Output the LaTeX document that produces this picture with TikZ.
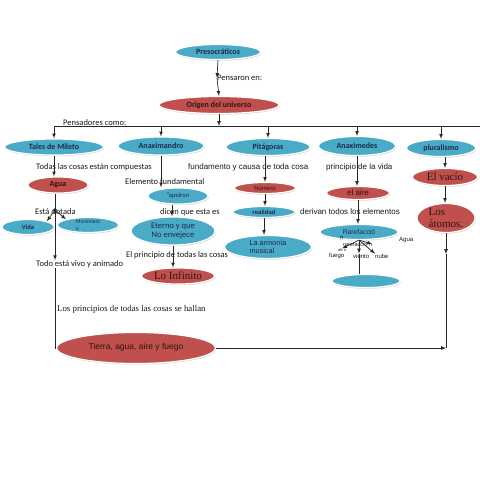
\documentclass[tikz,border=0pt]{standalone}
\usepackage{fontspec}
\setmainfont{Carlito}
\newfontfamily\arialf{Liberation Sans}
\newfontfamily\timesf{Liberation Serif}
\usetikzlibrary{shapes.geometric,shadows}
\definecolor{azul}{HTML}{4AABC6}
\definecolor{rojo}{HTML}{C0504D}
\definecolor{tinta}{HTML}{1B2A49}
\begin{document}
\begin{tikzpicture}[x=1pt,y=-1pt,>=latex]
			\tikzstyle{every node}=[font=\fontsize{8.5}{9.5}\selectfont,inner sep=0pt]
			\tikzstyle{globo}=[ellipse,draw=white,line width=1.2pt,drop shadow={shadow xshift=0.8pt,shadow yshift=-1.2pt,opacity=0.3},align=center]
			\tikzstyle{azulg}=[globo,fill=azul,text=tinta]
			\tikzstyle{rojog}=[globo,fill=rojo,text=rojo!25!black]
			\tikzstyle{fuerte}=[font=\bfseries\fontsize{8}{9}\selectfont]
			\tikzstyle{etiq}=[anchor=west,text=black!90]
			\tikzstyle{arialt}=[font=\arialf\fontsize{8}{9}\selectfont]
			\tikzstyle{arialp}=[font=\arialf\fontsize{6}{7}\selectfont]
			\tikzstyle{romana}=[font=\timesf\fontsize{11}{12}\selectfont]
			\tikzstyle{linea}=[line width=0.7pt,draw=black!85]
			
			\fill[white] (0,0) rectangle (480,480);
			\useasboundingbox (0,0) rectangle (480,480);
			
			%Globos
			\node[azulg,fuerte,minimum width=85pt,minimum height=15pt] (preso) at (218,52) {Presocráticos};
			\node[rojog,fuerte,minimum width=120pt,minimum height=17pt] (origen) at (219,105) {Origen del universo};
			\node[azulg,fuerte,minimum width=99pt,minimum height=16pt] (tales) at (54,147) {Tales de Mileto};
			\node[azulg,fuerte,minimum width=86pt,minimum height=18pt] (anaxi) at (161,146) {Anaximandro};
			\node[azulg,fuerte,minimum width=84pt,minimum height=17pt] (pita) at (268,147) {Pitágoras};
			\node[azulg,fuerte,minimum width=77pt,minimum height=19pt] (anaxm) at (357,146) {Anaximedes};
			\node[azulg,fuerte,minimum width=69pt,minimum height=17pt] (plural) at (441,148) {pluralismo};
			
			\node[rojog,fuerte,minimum width=60pt,minimum height=16pt] (agua) at (58,185) {Agua};
			\node[azulg,minimum width=52pt,minimum height=15pt,font=\bfseries\fontsize{6.5}{7}\selectfont] (vida) at (28,227) {Vida};
			\node[azulg,minimum width=61pt,minimum height=15pt,font=\fontsize{5.5}{6.5}\selectfont,align=left] (movi) at (88,225) {Movimient\\o};
			\node[azulg,minimum width=60pt,minimum height=16pt,font=\fontsize{6.5}{7}\selectfont] (apei) at (178,196) {"apeiron};
			\node[azulg,minimum width=84pt,minimum height=28pt] (eterno) at (173,231) {Eterno y que\\No envejece};
			\node[rojog,romana,minimum width=73pt,minimum height=16pt] (infin) at (178,276) {Lo Infinito};
			
			\node[rojog,arialp,minimum width=61pt,minimum height=11pt] (numero) at (265,188) {Número};
			\node[azulg,arialp,minimum width=62pt,minimum height=11pt] (real) at (264,212) {\bfseries realidad};
			\node[azulg,minimum width=87pt,minimum height=23pt,font=\arialf\fontsize{7.3}{8}\selectfont,align=left] (armonia) at (268,247) {La armonía\\musical};
			
			\node[rojog,arialt,minimum width=63pt,minimum height=13pt] (aire) at (358,193) {el aire};
			\node[azulg,font=\arialf\fontsize{6.8}{7}\selectfont,minimum width=78pt,minimum height=15pt] (rare) at (359,232) {Rarefacció};
			\node[azulg,minimum width=68pt,minimum height=13pt] (vacioaz) at (366,281) {};
			
			\node[rojog,romana,minimum width=65pt,minimum height=17pt] (vacio) at (445,177) {El vacío};
			\node[rojog,romana,minimum width=58pt,minimum height=29pt,align=left] (atomos) at (446,218) {Los\\átomos.};
			
			\node[rojog,font=\arialf\fontsize{8.5}{9}\selectfont,minimum width=159pt,minimum height=31pt] (tierra) at (136,348) {\raisebox{4pt}{Tierra, agua, aire y fuego}};
			
			%Texte
			\node[etiq] (pens) at (217,78) {Pensaron en:};
			\node[etiq] (pensad) at (63,123) {Pensadores como:};
			\node[etiq] (compu) at (36,167) {Todas las cosas están compuestas};
			\node[etiq] (dotada) at (35,212) {Está dotada};
			\node[etiq] (vivo) at (36,264) {Todo está vivo y animado};
			\node[etiq] (elem) at (125,182) {Elemento fundamental};
			\node[etiq] (dicen) at (160,212) {dicen que esta es};
			\node[etiq] (princ) at (126,255) {El principio de todas las cosas};
			\node[etiq,arialt] (causa) at (188,167) {fundamento y causa de toda cosa};
			\node[etiq,arialt] (pvida) at (326,167) {principio de la vida};
			\node[etiq,arialt] (deriv) at (300,212) {derivan todos los elementos};
			\node[etiq,arialp] (rn) at (340,238) {n};
			\node[etiq,arialp] (aguar) at (399,240) {Agua};
			\node[etiq,font=\arialf\fontsize{5.5}{6}\selectfont] (rare2) at (343,244) {rarefacció n};
			\node[etiq,font=\arialf\fontsize{4}{5}\selectfont] (abn) at (338,250) {ab n};
			\node[etiq,arialp] (fuego) at (329,256) {fuego};
			\node[etiq,arialp] (viento) at (353,256) {viento};
			\node[etiq,arialp] (nube) at (375,256) {nube};
			\node[etiq,font=\timesf\fontsize{8.8}{10}\selectfont] (hallan) at (57,309) {Los principios de todas las cosas se hallan};
			
			%Pfeile
			\coordinate (barfin) at (480,126);
			\coordinate (nudo) at (55,210);
			\coordinate (flecha) at (446,254);
			\coordinate (esq) at (atomos.south |- tierra.east);
			
			\draw[linea,->] (preso.south) -- (pens.west);
			\draw[linea,->] (pens.west) -- (origen.north);
			\draw[linea,->] (origen.south) -- (origen.south |- barfin);
			\draw[linea] (tales.north |- barfin) -- (barfin);
			\foreach \n in {tales,anaxi,pita,anaxm,plural}
				\draw[linea,->] (\n.north |- barfin) -- (\n.north);
			
			\draw[linea,->] (tales.south) -- (tales.south |- agua.north);
			\draw[linea,->] (agua.south -| nudo) -- ([yshift=-4pt]nudo);
			\draw[linea,->] (nudo) -- (vida.north east);
			\draw[linea,->] (nudo) -- (movi.north west);
			\draw[linea,->] (nudo) -- (nudo |- vivo.north);
			\draw[linea] (nudo |- vivo.south) -- (nudo |- tierra.west) -- (tierra.west);
			
			\draw[linea,->] (anaxi.south) -- (anaxi.south |- apei.north);
			\draw[linea,->] ([xshift=-6pt]apei.south) -- ([xshift=-6pt]apei.south |- eterno.north);
			\draw[linea,->] (eterno.south) -- (eterno.south |- infin.north);
			
			\draw[linea,->] (numero.north |- pita.south) -- (numero.north);
			\draw[linea,->] (numero.south) -- (numero.south |- real.north);
			\draw[linea,->] (real.south) -- (real.south |- armonia.north);
			
			\draw[linea,->] (anaxm.south) -- (anaxm.south |- aire.north);
			\draw[linea,->] (aire.south) -- (aire.south |- rare.north);
			\draw[linea,->] (rare.south) -- (abn.north);
			\draw[linea,->] (rare.south) -- (rare2.east);
			\draw[linea,->] (rare.south) -- (nube.north west);
			\draw[linea,->] (rare.south) -- (rare.south |- viento.north);
			\draw[linea] (rare.south |- viento.north) -- (rare.south |- vacioaz.north);
			
			\draw[linea,->] (vacio.north |- plural.south) -- (vacio.north);
			\draw[linea,->] (vacio.south) -- (vacio.south |- atomos.north);
			\draw[linea,->] (atomos.south) -- (flecha);
			\draw[linea] (flecha) -- (esq);
			\draw[linea,->] (tierra.east) -- (esq);
			
\end{tikzpicture}
\end{document}
